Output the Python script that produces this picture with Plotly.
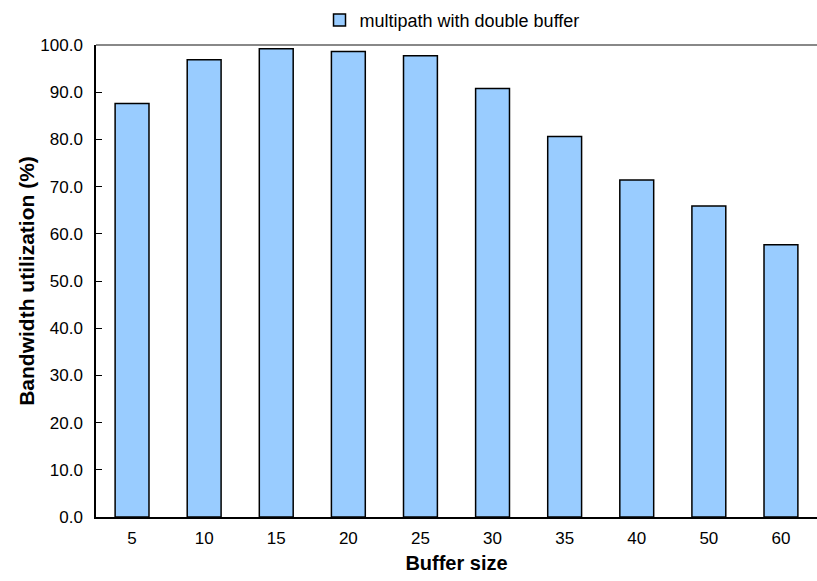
import plotly.graph_objects as go

categories = ["5", "10", "15", "20", "25", "30", "35", "40", "50", "60"]
values = [87.6, 96.9, 99.2, 98.6, 97.7, 90.8, 80.6, 71.4, 65.9, 57.7]
series_name = "multipath with double buffer"
y_ticks = [0, 10, 20, 30, 40, 50, 60, 70, 80, 90, 100]

FONT = "Liberation Sans, Arial, sans-serif"

fig = go.Figure()
fig.add_trace(go.Bar(
    x=categories, y=values, name=series_name,
    marker=dict(color="#99CCFF", line=dict(color="#000000", width=1.5)),
    width=0.47, showlegend=True,
))

fig.update_layout(
    width=817, height=581,
    margin=dict(l=96, r=0, t=45, b=64),
    paper_bgcolor="white", plot_bgcolor="white",
    font=dict(family=FONT, size=17, color="#000000"),
    showlegend=True,
    legend=dict(orientation="h", x=0.31, xanchor="left", y=1.013, yanchor="bottom",
                font=dict(family=FONT, size=18), bgcolor="rgba(0,0,0,0)"),
    xaxis=dict(
        showline=True, linecolor="#000000", linewidth=1.5,
        ticks="outside", ticklen=5, tickcolor="rgba(0,0,0,0)",
        tickfont=dict(family=FONT, size=17),
        title=dict(text="<b>Buffer size</b>", font=dict(family=FONT, size=20), standoff=9),
    ),
    yaxis=dict(
        range=[0, 100], tickvals=y_ticks, tickformat=".1f",
        showline=True, linecolor="#000000", linewidth=1.5,
        ticks="inside", ticklen=6, tickcolor="#000000", tickwidth=1,
        ticklabelstandoff=8,
        showgrid=False, zeroline=False,
        tickfont=dict(family=FONT, size=17),
        title=dict(text="<b>Bandwidth utilization (%)</b>", font=dict(family=FONT, size=21), standoff=0),
    ),
    bargap=0.53,
)

fig.add_shape(type="line", xref="paper", yref="y domain", x0=0, x1=1, y0=1, y1=1,
              line=dict(color="#888888", width=2))

fig.write_html("out.html")
